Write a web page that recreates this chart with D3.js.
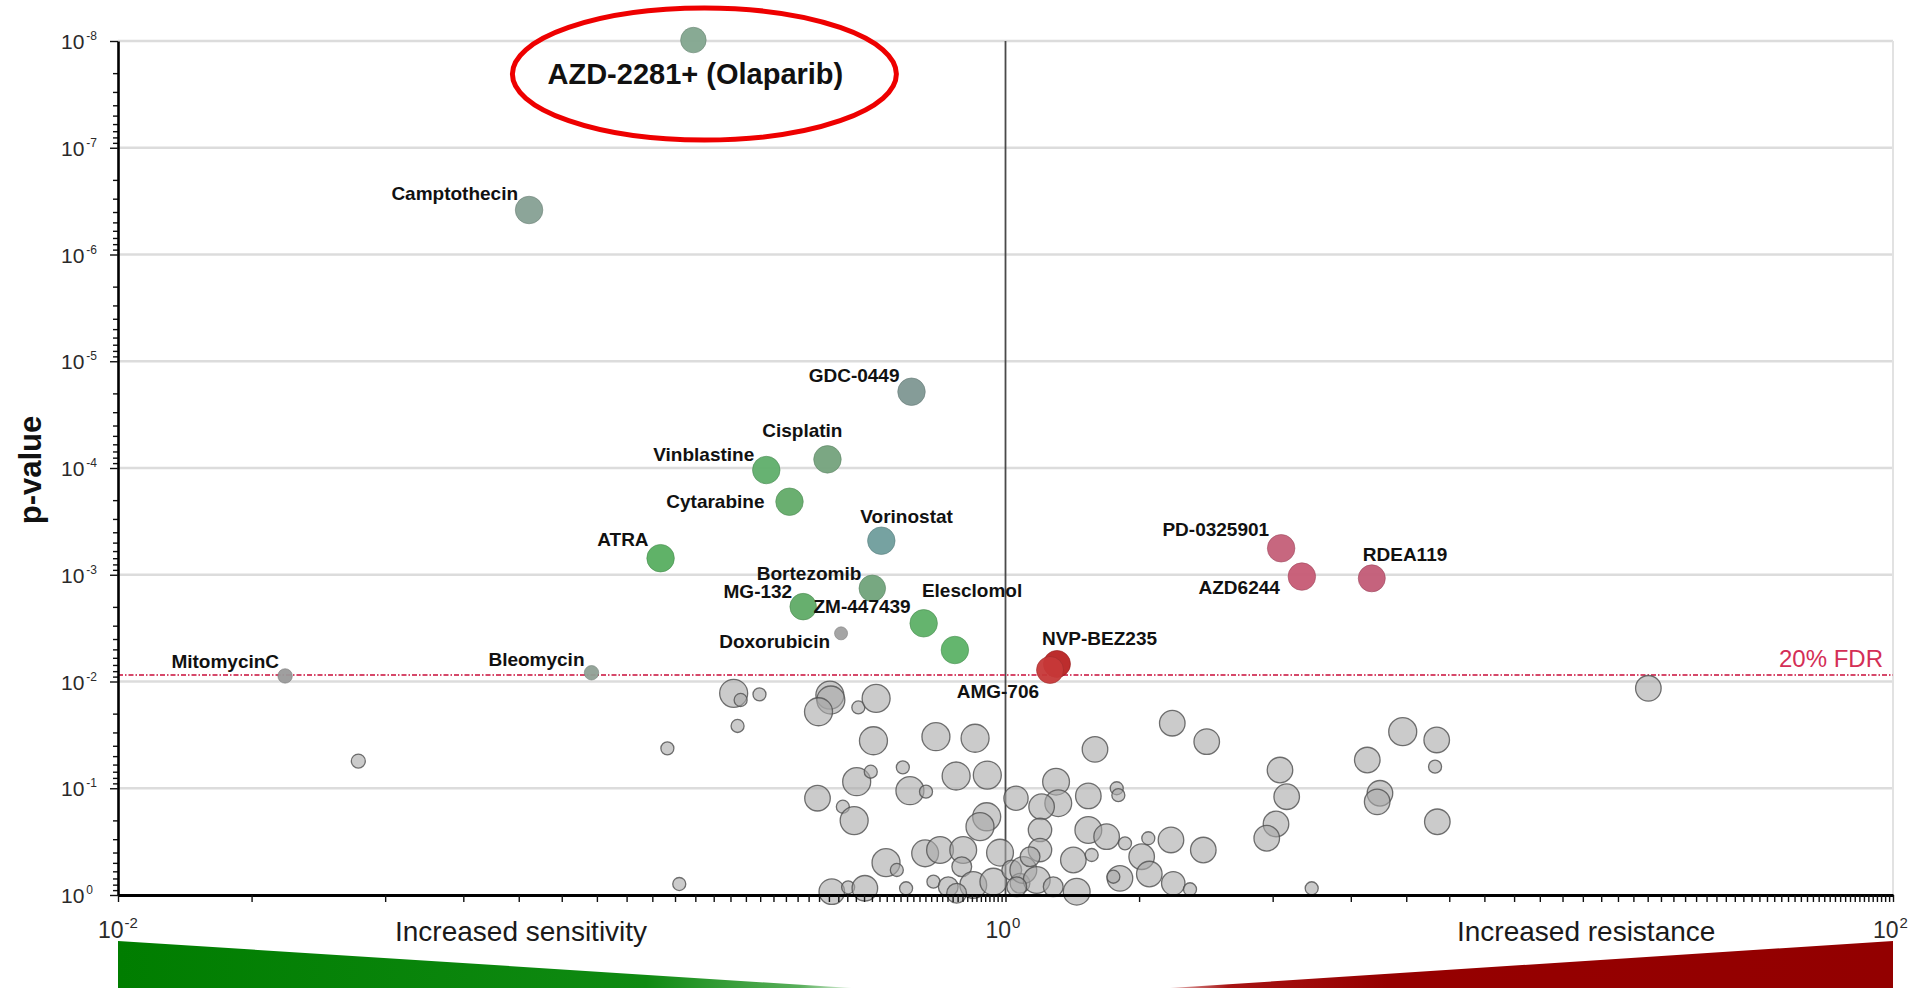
<!DOCTYPE html>
<html><head><meta charset="utf-8">
<script src="https://cdn.jsdelivr.net/npm/d3@7"></script>
<style>
html,body{margin:0;padding:0;background:#fff;overflow:hidden}
svg{display:block;font-family:"Liberation Sans",Arial,Helvetica,sans-serif}
</style></head><body>
<svg id="chart" width="1927" height="988"></svg>
<script>
// ---------------- DATA ----------------
const drugNames = ["AZD-2281+ (Olaparib)","Camptothecin","GDC-0449","Cisplatin","Vinblastine","Cytarabine",
  "Vorinostat","ATRA","Bortezomib","MG-132","ZM-447439","Elesclomol","Doxorubicin","NVP-BEZ235","AMG-706",
  "PD-0325901","AZD6244","RDEA119","MitomycinC","Bleomycin"];
const drugFoldChange = [0.198,0.0844,0.614,0.397,0.289,0.326,0.525,0.167,0.501,0.350,0.654,0.769,0.426,1.306,1.260,4.18,4.654,6.69,0.0238,0.1167];
const drugPValue = [9.8e-9,3.83e-7,1.93e-5,8.3e-5,1.045e-4,2.07e-4,4.8e-4,7.0e-4,1.34e-3,1.99e-3,2.85e-3,5.07e-3,3.54e-3,6.85e-3,7.8e-3,5.65e-4,1.04e-3,1.08e-3,8.87e-3,8.28e-3];
const drugCellLines = [50,58,58,58,58,58,58,58,54,54,58,58,13,56,56,58,58,56,16,16];

const otherFoldChange = [0.244,0.253,0.279,0.249,0.402,0.404,0.379,0.466,0.511,0.504,0.697,0.854,0.587,0.462,0.497,0.774,0.910,0.609,0.662,0.377,
  0.430,0.456,1.056,0.907,0.876,0.538,0.569,0.659,0.712,0.803,0.972,0.797,0.688,0.743,0.846,0.939,0.406,0.442,0.482,0.597,
  0.776,1.033,1.078,1.591,2.376,2.841,4.155,4.302,4.070,3.879,1.300,1.315,1.206,1.537,1.781,1.796,1.196,1.196,1.537,1.690,
  1.859,2.098,2.360,2.791,1.422,1.564,2.027,1.811,1.750,2.109,2.388,2.605,1.447,4.898,1.097,1.176,1.281,1.060,1.136,
  28.1,7.855,9.37,6.536,9.29,6.98,6.88,9.40,0.0348,0.173,0.184];
const otherPValue = [0.0129,0.0149,0.0132,0.0261,0.0134,0.0149,0.0192,0.0175,0.0144,0.0359,0.0329,0.0340,0.0637,0.0868,0.070,0.0768,0.0752,0.1054,0.1077,0.124,
  0.149,0.201,0.124,0.185,0.229,0.498,0.583,0.407,0.379,0.379,0.401,0.543,0.750,0.836,0.806,0.750,0.931,0.847,0.865,0.865,
  0.964,0.583,0.777,0.0432,0.0246,0.0366,0.0675,0.120,0.216,0.294,0.0868,0.138,0.149,0.118,0.100,0.116,0.246,0.379,0.246,0.284,
  0.328,0.294,0.305,0.379,0.470,0.422,0.438,0.698,0.674,0.636,0.777,0.884,0.931,0.865,0.583,0.724,0.836,0.836,0.438,
  0.01158,0.0295,0.0353,0.0544,0.0628,0.1115,0.134,0.206,0.0556,0.0423,0.789];
const otherCellLines = [60,13,13,13,60,60,60,13,60,60,60,60,13,60,13,60,60,60,13,50,
  13,60,45,60,60,60,13,55,55,55,55,30,13,30,55,55,50,13,50,13,
  30,30,30,50,50,50,50,50,50,50,55,55,50,50,13,13,42,42,55,50,
  13,13,50,50,50,13,50,50,13,50,42,13,55,13,55,55,30,30,30,
  50,60,50,50,13,50,50,50,15,13,13];

const yTickExponents = [-8,-7,-6,-5,-4,-3,-2,-1,0];
const xTickExponents = [-2,0,2];
const fdrPValue = 0.0087;
const fdrLabel = "20% FDR";
const yTitle = "p-value";
const leftCaption = "Increased sensitivity";
const rightCaption = "Increased resistance";

// ---------------- STYLES ----------------
const drugColors = {
  "AZD-2281+ (Olaparib)":"#82a58e","Camptothecin":"#86a094","GDC-0449":"#7e9792","Cisplatin":"#74a27c",
  "Vinblastine":"#5fae6a","Cytarabine":"#62ab68","Vorinostat":"#6f9d9c","ATRA":"#57ae60","Bortezomib":"#70a37a",
  "MG-132":"#5fab66","ZM-447439":"#5db066","Elesclomol":"#5cb266","Doxorubicin":"#a0a0a0","NVP-BEZ235":"#b82222",
  "AMG-706":"#c63838","PD-0325901":"#c45f78","AZD6244":"#c65a74","RDEA119":"#c25b76","MitomycinC":"#9a9a9a","Bleomycin":"#8fa095"
};
// label placement: [anchor, dx, dy]
const labelPlace = {
  "Camptothecin":["end",-11,-10],"GDC-0449":["end",-12,-10],"Cisplatin":["end",15,-22],
  "Vinblastine":["end",-12,-9],"Cytarabine":["end",-25,6],"Vorinostat":["start",-21,-18],"ATRA":["end",-12,-12],
  "Bortezomib":["end",-11,-8],"MG-132":["end",-11,-9],"ZM-447439":["end",-13,-10],"Elesclomol":["start",-33,-53],
  "Doxorubicin":["end",-11,15],"NVP-BEZ235":["start",-15,-19],"AMG-706":["end",-11,28],"PD-0325901":["end",-12,-12],
  "AZD6244":["end",-22,17],"RDEA119":["start",-9,-17],"MitomycinC":["end",-6,-8],"Bleomycin":["end",-7,-7]
};

// ---------------- CHART ----------------
const svg = d3.select("#chart");
const X0 = 118, X1 = 1893, Y0 = 41, Y1 = 895;
const x = d3.scaleLog().domain([0.01,100]).range([X0,X1]);
const y = d3.scaleLog().domain([1e-8,1]).range([Y0,Y1]);
const r = d3.scaleSqrt().domain([0,60]).range([0,14]);

const defs = svg.append("defs");
const gg = defs.append("linearGradient").attr("id","gGreen").attr("x1","0").attr("x2","1").attr("y1","0").attr("y2","0");
gg.append("stop").attr("offset","0").attr("stop-color","#007d00");
gg.append("stop").attr("offset","0.72").attr("stop-color","#0f8a12");
gg.append("stop").attr("offset","0.93").attr("stop-color","#5aaf5c");
gg.append("stop").attr("offset","1").attr("stop-color","#dcefdc");
const gr = defs.append("linearGradient").attr("id","gRed").attr("x1","0").attr("x2","1").attr("y1","0").attr("y2","0");
gr.append("stop").attr("offset","0").attr("stop-color","#e3b0b0");
gr.append("stop").attr("offset","0.08").attr("stop-color","#a81414");
gr.append("stop").attr("offset","0.3").attr("stop-color","#960000");
gr.append("stop").attr("offset","1").attr("stop-color","#930000");

// gridlines
const yMajor = yTickExponents.map(e => Math.pow(10,e));
svg.append("g").selectAll("line").data(yMajor.slice(0,-1)).join("line")
  .attr("x1",X0).attr("x2",X1).attr("y1",d=>y(d)).attr("y2",d=>y(d))
  .attr("stroke","#dcdcdc").attr("stroke-width",2.6);
svg.append("line").attr("x1",X1).attr("x2",X1).attr("y1",Y0).attr("y2",Y1)
  .attr("stroke","#e2e2e2").attr("stroke-width",2);

// vertical line at 1
svg.append("line").attr("x1",x(1)).attr("x2",x(1)).attr("y1",y(1e-8)).attr("y2",y(1))
  .attr("stroke","#4a4a4a").attr("stroke-width",1.8);

// FDR line
svg.append("line").attr("x1",X0).attr("x2",X1).attr("y1",y(fdrPValue)).attr("y2",y(fdrPValue))
  .attr("stroke","#d6486a").attr("stroke-width",1.9).attr("stroke-dasharray","5,2,1.5,2");
svg.append("text").attr("x",X1-10).attr("y",y(fdrPValue)-8).attr("text-anchor","end")
  .attr("font-size",24).attr("fill","#d42e56").text(fdrLabel);

// gray bubbles
const others = otherFoldChange.map((v,i)=>({fc:v,p:otherPValue[i],n:otherCellLines[i]}));
svg.append("g").selectAll("circle").data(others).join("circle")
  .attr("cx",d=>x(d.fc)).attr("cy",d=>y(d.p)).attr("r",d=>r(d.n))
  .attr("fill","#a9a9a9").attr("fill-opacity",0.6)
  .attr("stroke","#4f4f4f").attr("stroke-opacity",0.8).attr("stroke-width",1.3);

// labelled drugs
const drugs = drugNames.map((n,i)=>({name:n,fc:drugFoldChange[i],p:drugPValue[i],n:drugCellLines[i]}));
svg.append("g").selectAll("circle").data(drugs).join("circle")
  .attr("cx",d=>x(d.fc)).attr("cy",d=>y(d.p)).attr("r",d=>r(d.n))
  .attr("fill",d=>drugColors[d.name]).attr("fill-opacity",0.95)
  .attr("stroke",d=>d3.color(drugColors[d.name]).darker(0.6)).attr("stroke-width",1).attr("stroke-opacity",0.6);

svg.append("g").selectAll("text").data(drugs.filter(d=>labelPlace[d.name])).join("text")
  .attr("x",d=>x(d.fc)+labelPlace[d.name][1]).attr("y",d=>y(d.p)+labelPlace[d.name][2])
  .attr("text-anchor",d=>labelPlace[d.name][0])
  .attr("font-size",19).attr("font-weight","bold").attr("fill","#111").text(d=>d.name);

// highlighted drug
const hl = drugs[0];
svg.append("text").attr("x",x(hl.fc)+2).attr("y",y(hl.p)+44).attr("text-anchor","middle")
  .attr("font-size",29).attr("font-weight","bold").attr("fill","#111").text(hl.name);
svg.append("ellipse").attr("cx",x(hl.fc)+11).attr("cy",y(hl.p)+34).attr("rx",192).attr("ry",66)
  .attr("fill","none").attr("stroke","#ee0000").attr("stroke-width",5);

// axes
const yMinor = [];
yTickExponents.slice(0,-1).forEach(e=>{ for(let k=2;k<=9;k++) yMinor.push(k*Math.pow(10,e)); });
const gyMinor = svg.append("g").attr("transform",`translate(${X0},0)`)
  .call(d3.axisLeft(y).tickValues(yMinor).tickSize(5).tickSizeOuter(0).tickFormat(""));
gyMinor.select(".domain").remove();
const gy = svg.append("g").attr("transform",`translate(${X0},0)`)
  .call(d3.axisLeft(y).tickValues(yMajor).tickSize(8).tickSizeOuter(0).tickFormat(""));
gy.select(".domain").attr("stroke","#000").attr("stroke-width",2.6);
svg.selectAll(".tick line").attr("stroke","#111").attr("stroke-width",1.4);

const xMinor = d3.range(1,51).map(i=>i*0.02).concat(d3.range(1,51).map(i=>i*2));
const gx = svg.append("g").attr("transform",`translate(0,${Y1})`)
  .call(d3.axisBottom(x).tickValues([0.01].concat(xMinor)).tickSize(7).tickSizeOuter(0).tickFormat(""));
gx.select(".domain").attr("stroke","#000").attr("stroke-width",3);
gx.selectAll(".tick line").attr("stroke","#111").attr("stroke-width",1.4);

// y tick labels
yTickExponents.forEach(e=>{
  const t = svg.append("text").attr("x",61).attr("y",y(Math.pow(10,e))+8).attr("fill","#2a2a2a").attr("font-size",21);
  t.append("tspan").text("10");
  t.append("tspan").attr("font-size",12).attr("dx",2).attr("dy",-9).text(String(e));
});
// x tick labels
xTickExponents.forEach(e=>{
  const t = svg.append("text").attr("x",x(Math.pow(10,e))-20).attr("y",938).attr("fill","#2a2a2a").attr("font-size",23);
  t.append("tspan").text("10");
  t.append("tspan").attr("font-size",15).attr("dx",1).attr("dy",-10).text(String(e));
});

// y title
svg.append("text").attr("transform",`translate(41,${(Y0+Y1)/2+2}) rotate(-90)`).attr("text-anchor","middle")
  .attr("font-size",31).attr("font-weight","bold").attr("fill","#111").text(yTitle);

// wedges
const H = 988, wedgeTop = 941;
svg.append("path").attr("d",`M${x(0.01)},${wedgeTop} L${x(0.45)},${H} L${x(0.01)},${H} Z`).attr("fill","url(#gGreen)");
svg.append("path").attr("d",`M${x(100)},${wedgeTop} L${x(2.35)},${H} L${x(100)},${H} Z`).attr("fill","url(#gRed)");

svg.append("text").attr("x",395).attr("y",941).attr("font-size",28).attr("fill","#1a1a1a").text(leftCaption);
svg.append("text").attr("x",1457).attr("y",941).attr("font-size",28).attr("fill","#1a1a1a").text(rightCaption);
</script>
</body></html>
